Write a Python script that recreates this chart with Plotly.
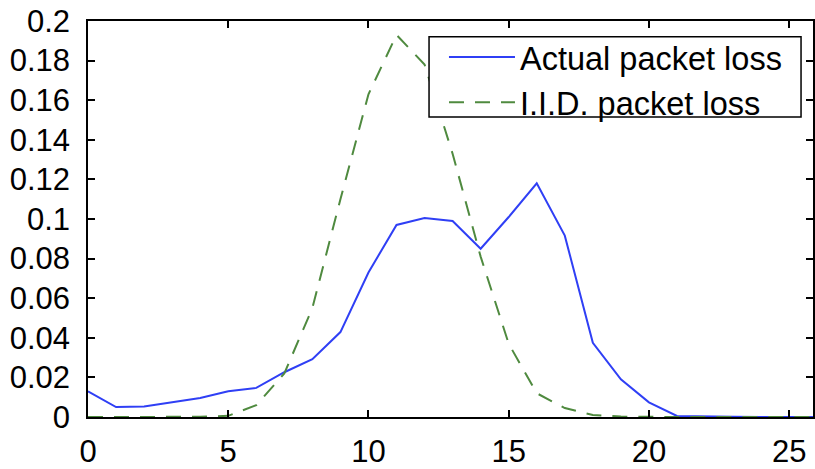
import plotly.graph_objects as go

x_vals = list(range(0, 27))
actual_loss = [0.013, 0.005, 0.0053, 0.0075, 0.0096, 0.013, 0.0147, 0.0226, 0.0292, 0.0429,
               0.073, 0.097, 0.1005, 0.099, 0.085, 0.101, 0.118, 0.0916, 0.0375, 0.019,
               0.0074, 0.0005, 0.0002, 0.0001, 0.0, 0.0, 0.0]
iid_loss = [0.0, 0.0, 0.0, 0.0, 0.0001, 0.0006, 0.006, 0.022, 0.055, 0.11,
            0.163, 0.193, 0.178, 0.133, 0.081, 0.037, 0.012, 0.0045, 0.001, 0.0002,
            0.0, 0.0, 0.0, 0.0, 0.0, 0.0, 0.0]
x_ticks = [0, 5, 10, 15, 20, 25]
y_ticks = [0, 0.02, 0.04, 0.06, 0.08, 0.1, 0.12, 0.14, 0.16, 0.18, 0.2]
y_tick_labels = ["0", "0.02", "0.04", "0.06", "0.08", "0.1", "0.12", "0.14", "0.16", "0.18", "0.2"]

fig = go.Figure()
fig.add_trace(go.Scatter(x=x_vals, y=actual_loss, mode="lines", name="Actual packet loss",
                         line=dict(color="#2f3ff5", width=2)))
fig.add_trace(go.Scatter(x=x_vals, y=iid_loss, mode="lines", name="I.I.D. packet loss",
                         line=dict(color="#4f8a3f", width=2, dash="15px,11px")))

# legend frame (styling only)
fig.add_shape(type="rect", xref="paper", yref="paper",
              x0=0.4704, x1=0.9835, y0=0.7574, y1=0.9604,
              fillcolor="white", line=dict(color="black", width=1.5), layer="above")

font_family = "Liberation Sans, Arial, sans-serif"
fig.update_layout(
    width=815, height=469,
    margin=dict(l=88, r=0, t=21, b=44),
    paper_bgcolor="white", plot_bgcolor="white",
    font=dict(family=font_family, size=31, color="black"),
    showlegend=True,
    legend=dict(x=0.491, y=0.979, xanchor="left", yanchor="top",
                bgcolor="rgba(0,0,0,0)", borderwidth=0,
                font=dict(family=font_family, size=32.5, color="black"),
                tracegroupgap=0, itemwidth=66),
)
fig.update_xaxes(range=[0, 25.85], tickmode="array", tickvals=x_ticks,
                 ticks="inside", ticklen=7, tickwidth=1.5, tickcolor="black",
                 showline=True, linecolor="black", linewidth=1.5, mirror="ticks",
                 showgrid=False, zeroline=False, ticklabelstandoff=6)
fig.update_yaxes(range=[0, 0.2], tickmode="array", tickvals=y_ticks, ticktext=y_tick_labels,
                 ticks="inside", ticklen=7, tickwidth=1.5, tickcolor="black",
                 showline=True, linecolor="black", linewidth=1.5, mirror="ticks",
                 showgrid=False, zeroline=False, ticklabelstandoff=10)

fig.write_html("out.html")
